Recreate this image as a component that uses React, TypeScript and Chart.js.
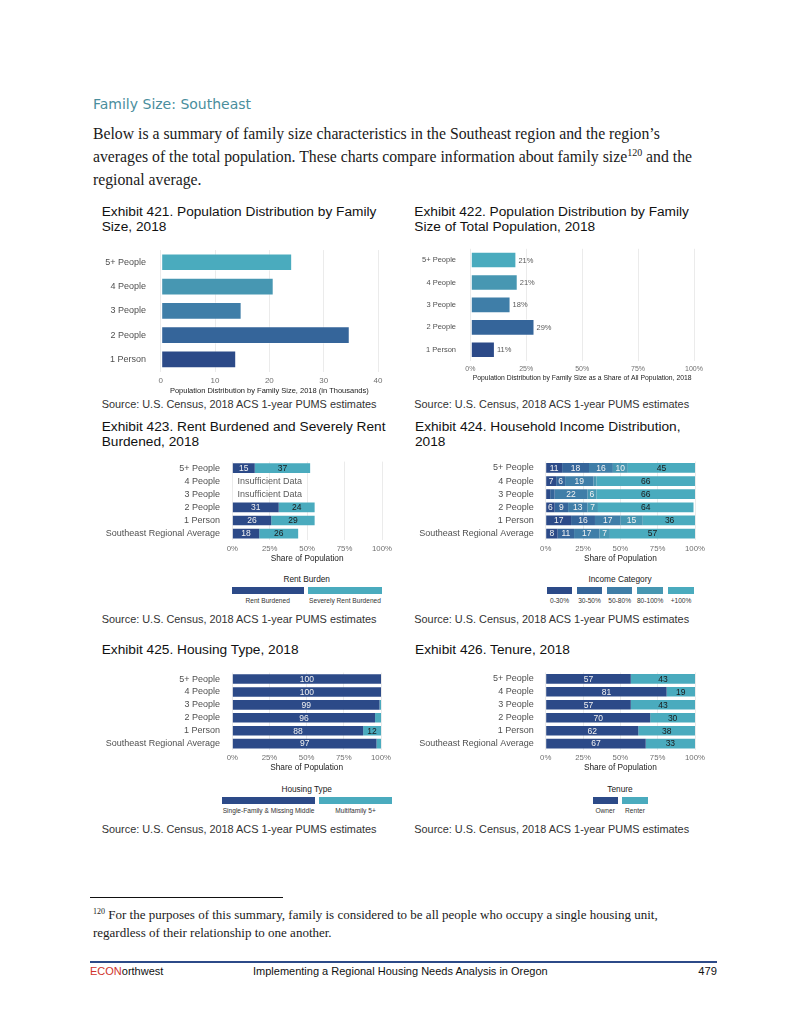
import React, { useEffect, useRef } from 'react';
import { Chart, registerables } from 'chart.js';
Chart.register(...registerables);

const SANS = '"Liberation Sans", Arial, Helvetica, sans-serif';
const SERIF = '"Liberation Serif", "Times New Roman", serif';
const HEAD = '"DejaVu Sans", Verdana, sans-serif';

// ---------------- data ----------------
const familySizes = ['5+ People', '4 People', '3 People', '2 People', '1 Person'];
const populationThousands = [24.2, 20.8, 14.9, 34.8, 13.9];
const populationTicks = [0, 10, 20, 30, 40];
const populationShare = [20.6, 21.2, 18.0, 28.7, 11.0];
const populationShareLabels = ['21%', '21%', '18%', '29%', '11%'];
const shareTicks = [0, 25, 50, 75, 100];

const groups = ['5+ People', '4 People', '3 People', '2 People', '1 Person', 'Southeast Regional Average'];

const rentBurdenTypes = ['Rent Burdened', 'Severely Rent Burdened'];
const rentBurdened = [15, null, null, 31, 26, 18];
const severelyRentBurdened = [37, null, null, 24, 29, 26];
const insufficientGroups = ['4 People', '3 People'];
const insufficientText = 'Insufficient Data';

const incomeCategories = ['0-30%', '30-50%', '50-80%', '80-100%', '+100%'];
const income0to30 = [11, 7, 3, 6, 17, 8];
const income30to50 = [18, 6, 3, 9, 16, 11];
const income50to80 = [16, 19, 22, 13, 17, 17];
const income80to100 = [10, 2, 6, 7, 15, 7];
const income100plus = [45, 66, 66, 64, 36, 57];

const housingTypes = ['Single-Family & Missing Middle', 'Multifamily 5+'];
const singleFamily = [100, 100, 99, 96, 88, 97];
const multifamily = [0, 0, 1, 4, 12, 3];

const tenureTypes = ['Owner', 'Renter'];
const owner = [57, 81, 57, 70, 62, 67];
const renter = [43, 19, 43, 30, 38, 33];

// ---------------- styles ----------------
const NAVY = '#2c4a88';
const TEAL = '#4aabbe';
const sizeColors = ['#4aabbe', '#4797b2', '#3f7ea8', '#35659a', '#2c4a88'];
const incomeColors = ['#2c4a88', '#35659a', '#3f7ea8', '#4797b2', '#4aabbe'];
const LIGHT_LABEL = '#f2f2f2';
const DARK_LABEL = '#1a1a1a';
const CAT_COLOR = '#505050';
const TICK_COLOR = '#707070';
const AXIS_TITLE = '#222222';
const LABEL_MIN = 5;
const INSUFFICIENT_AT = 25;

type GIn = {
  colLeft: number; panelL: number; panelR: number; panelT: number; panelB: number;
  tickCY: number; titleCY: number; tickFont: number; titleFont: number;
};
function geom(o: GIn) {
  const top = Math.floor(o.panelT - 10);
  const left = o.colLeft;
  const right = Math.ceil(o.panelR + 16);
  const titleLH = o.titleFont * 1.2;
  const bottom = Math.ceil(o.titleCY + titleLH / 2 + 1);
  return {
    left, top, width: right - left, height: bottom - top,
    yW: o.panelL - left,
    xH: bottom - o.panelB,
    padTop: o.panelT - top,
    padRight: right - o.panelR,
    tickPad: o.tickCY - o.panelB - (o.tickFont * 1.2) / 2,
    titlePadBottom: bottom - o.titleCY - titleLH / 2,
  };
}
type G = ReturnType<typeof geom>;

const g1 = geom({ colLeft: 95, panelL: 160.7, panelR: 378, panelT: 240, panelB: 371.5, tickCY: 381, titleCY: 390.7, tickFont: 8, titleFont: 7.5 });
const g2 = geom({ colLeft: 405, panelL: 470.3, panelR: 694, panelT: 240.2, panelB: 361, tickCY: 369.3, titleCY: 378, tickFont: 7, titleFont: 6.8 });
const g3 = geom({ colLeft: 95, panelL: 232.3, panelR: 382, panelT: 454.9, panelB: 540.1, tickCY: 549, titleCY: 558.3, tickFont: 7.8, titleFont: 8.3 });
const g4 = geom({ colLeft: 405, panelL: 545.7, panelR: 695, panelT: 454.9, panelB: 540.1, tickCY: 549, titleCY: 558.3, tickFont: 7.8, titleFont: 8.3 });
const g5 = geom({ colLeft: 95, panelL: 232.3, panelR: 381, panelT: 665.2, panelB: 750.1, tickCY: 758.3, titleCY: 767.7, tickFont: 7.8, titleFont: 8.3 });
const g6 = geom({ colLeft: 405, panelL: 545.7, panelR: 695, panelT: 665.2, panelB: 750.1, tickCY: 758.3, titleCY: 767.7, tickFont: 7.8, titleFont: 8.3 });

type OptIn = {
  min: number; max: number; ticks: number[]; fmt: (v: number) => string; tickFont: number;
  title: string; titleFont: number; catFont: number; catPad: number; stacked: boolean;
};
function options(g: G, o: OptIn): any {
  return {
    responsive: false,
    maintainAspectRatio: false,
    animation: false,
    indexAxis: 'y',
    events: [],
    layout: { padding: { top: g.padTop, right: g.padRight, left: 0, bottom: 0 } },
    plugins: { legend: { display: false }, tooltip: { enabled: false }, title: { display: false } },
    scales: {
      x: {
        type: 'linear', min: o.min, max: o.max, stacked: o.stacked,
        afterBuildTicks: (s: any) => { s.ticks = o.ticks.map((v) => ({ value: v })); },
        afterFit: (s: any) => { s.height = g.xH; },
        grid: { color: '#ebebeb', lineWidth: 1, drawTicks: false },
        border: { display: false },
        ticks: {
          padding: g.tickPad, color: TICK_COLOR, font: { family: SANS, size: o.tickFont },
          callback: (v: any) => o.fmt(Number(v)), maxRotation: 0, autoSkip: false,
        },
        title: {
          display: true, text: o.title, color: AXIS_TITLE,
          font: { family: SANS, size: o.titleFont },
          padding: { top: 0, bottom: g.titlePadBottom },
        },
      },
      y: {
        type: 'category', stacked: o.stacked, offset: true,
        afterFit: (s: any) => { s.width = g.yW; },
        grid: { display: false, drawTicks: false },
        border: { display: false },
        ticks: { padding: o.catPad, color: CAT_COLOR, font: { family: SANS, size: o.catFont }, autoSkip: false },
      },
    },
  };
}

function segmentLabels(colors: string[], size: number) {
  return {
    id: 'segmentLabels',
    afterDatasetsDraw(chart: any) {
      const ctx = chart.ctx;
      chart.data.datasets.forEach((ds: any, di: number) => {
        const meta = chart.getDatasetMeta(di);
        meta.data.forEach((el: any, i: number) => {
          const v = ds.data[i];
          if (v == null || v < LABEL_MIN) return;
          const p = el.getProps(['x', 'y', 'base'], true);
          ctx.save();
          ctx.font = `${size}px ${SANS}`;
          ctx.fillStyle = colors[di];
          ctx.textAlign = 'center';
          ctx.textBaseline = 'middle';
          ctx.fillText(String(v), (p.x + p.base) / 2, p.y + 0.5);
          ctx.restore();
        });
      });
    },
  };
}

function endLabels(texts: string[], size: number) {
  return {
    id: 'endLabels',
    afterDatasetsDraw(chart: any) {
      const ctx = chart.ctx;
      const meta = chart.getDatasetMeta(0);
      meta.data.forEach((el: any, i: number) => {
        const p = el.getProps(['x', 'y'], true);
        ctx.save();
        ctx.font = `${size}px ${SANS}`;
        ctx.fillStyle = '#5a5a5a';
        ctx.textAlign = 'left';
        ctx.textBaseline = 'middle';
        ctx.fillText(texts[i], p.x + 2, p.y + 0.5);
        ctx.restore();
      });
    },
  };
}

function noteLabels(rows: string[], text: string, size: number) {
  return {
    id: 'noteLabels',
    afterDatasetsDraw(chart: any) {
      const ctx = chart.ctx;
      const xs = chart.scales.x;
      const ys = chart.scales.y;
      rows.forEach((r) => {
        const idx = chart.data.labels.indexOf(r);
        if (idx < 0) return;
        ctx.save();
        ctx.font = `${size}px ${SANS}`;
        ctx.fillStyle = '#5a5a5a';
        ctx.textAlign = 'center';
        ctx.textBaseline = 'middle';
        ctx.fillText(text, xs.getPixelForValue(INSUFFICIENT_AT), ys.getPixelForValue(idx) + 0.5);
        ctx.restore();
      });
    },
  };
}

const pct = (v: number) => `${v}%`;
const shareOpts = {
  min: 0, max: 100, ticks: shareTicks, fmt: pct, tickFont: 7.8,
  title: 'Share of Population', titleFont: 8.3, catFont: 9, catPad: 12.2, stacked: true,
};
const BAR_W = 0.74;

function seg(label: string, data: (number | null)[], color: string) {
  return { label, data, backgroundColor: color, barPercentage: BAR_W, categoryPercentage: 1, borderWidth: 0 };
}

const configs: Record<string, () => any> = {
  c1: () => ({
    type: 'bar',
    data: {
      labels: familySizes,
      datasets: [{
        label: 'Population', data: populationThousands, backgroundColor: sizeColors,
        barPercentage: 0.73, categoryPercentage: 1, borderWidth: 1, borderColor: 'rgba(255,255,255,0.35)', borderSkipped: false,
      }],
    },
    options: options(g1, {
      min: 0, max: 40, ticks: populationTicks, fmt: (v) => String(v), tickFont: 8,
      title: 'Population Distribution by Family Size, 2018 (in Thousands)', titleFont: 7.5, catFont: 9, catPad: 14.7, stacked: false,
    }),
  }),
  c2: () => ({
    type: 'bar',
    data: {
      labels: familySizes,
      datasets: [{
        label: 'Share', data: populationShare, backgroundColor: sizeColors,
        barPercentage: 0.74, categoryPercentage: 1, borderWidth: 1, borderColor: 'rgba(255,255,255,0.35)', borderSkipped: false,
      }],
    },
    options: options(g2, {
      min: 0, max: 100, ticks: shareTicks, fmt: pct, tickFont: 7,
      title: 'Population Distribution by Family Size as a Share of All Population, 2018', titleFont: 6.8, catFont: 7.5, catPad: 14.3, stacked: false,
    }),
    plugins: [endLabels(populationShareLabels, 7.5)],
  }),
  c3: () => ({
    type: 'bar',
    data: {
      labels: groups,
      datasets: [
        seg(rentBurdenTypes[0], rentBurdened, NAVY),
        seg(rentBurdenTypes[1], severelyRentBurdened, TEAL),
      ],
    },
    options: options(g3, shareOpts),
    plugins: [segmentLabels([LIGHT_LABEL, DARK_LABEL], 8.5), noteLabels(insufficientGroups, insufficientText, 9)],
  }),
  c4: () => ({
    type: 'bar',
    data: {
      labels: groups,
      datasets: [
        seg(incomeCategories[0], income0to30, incomeColors[0]),
        seg(incomeCategories[1], income30to50, incomeColors[1]),
        seg(incomeCategories[2], income50to80, incomeColors[2]),
        seg(incomeCategories[3], income80to100, incomeColors[3]),
        seg(incomeCategories[4], income100plus, incomeColors[4]),
      ],
    },
    options: options(g4, { ...shareOpts, catPad: 12 }),
    plugins: [segmentLabels([LIGHT_LABEL, LIGHT_LABEL, LIGHT_LABEL, LIGHT_LABEL, DARK_LABEL], 8.5)],
  }),
  c5: () => ({
    type: 'bar',
    data: {
      labels: groups,
      datasets: [
        seg(housingTypes[0], singleFamily, NAVY),
        seg(housingTypes[1], multifamily, TEAL),
      ],
    },
    options: options(g5, shareOpts),
    plugins: [segmentLabels([LIGHT_LABEL, DARK_LABEL], 8.5)],
  }),
  c6: () => ({
    type: 'bar',
    data: {
      labels: groups,
      datasets: [
        seg(tenureTypes[0], owner, NAVY),
        seg(tenureTypes[1], renter, TEAL),
      ],
    },
    options: options(g6, { ...shareOpts, catPad: 12 }),
    plugins: [segmentLabels([LIGHT_LABEL, DARK_LABEL], 8.5)],
  }),
};

function ChartBox({ g, make }: { g: G; make: () => any }) {
  const ref = useRef<HTMLCanvasElement>(null);
  useEffect(() => {
    const chart = new Chart(ref.current as HTMLCanvasElement, make());
    return () => chart.destroy();
  }, []);
  return (
    <canvas
      ref={ref}
      width={g.width}
      height={g.height}
      style={{ position: 'absolute', left: g.left, top: g.top, width: g.width, height: g.height }}
    />
  );
}

type TxtProps = {
  x: number; y: number; size: number; children: React.ReactNode; family?: string; color?: string;
  align?: 'left' | 'right' | 'center'; lh?: number;
};
function Txt({ x, y, size, children, family = SANS, color = '#111', align = 'left', lh }: TxtProps) {
  const h = lh ?? Math.round(size * 1.4);
  const st: React.CSSProperties = {
    position: 'absolute', top: y - h / 2, height: h, lineHeight: `${h}px`, fontSize: size,
    fontFamily: family, color, whiteSpace: 'nowrap',
  };
  if (align === 'left') st.left = x;
  else if (align === 'right') st.right = 800 - x;
  else { st.left = x; st.transform = 'translateX(-50%)'; }
  return <div style={st}>{children}</div>;
}

function Legend({ title, titleX, titleY, labels, colors, boxes, boxY, labelY }: {
  title: string; titleX: number; titleY: number; labels: string[]; colors: string[];
  boxes: number[][]; boxY: number; labelY: number;
}) {
  return (
    <>
      <Txt x={titleX} y={titleY} size={8.3} align="center" color="#222">{title}</Txt>
      {labels.map((l, i) => (
        <React.Fragment key={l}>
          <div style={{
            position: 'absolute', left: boxes[i][0], top: boxY - 3.5, width: boxes[i][1] - boxes[i][0], height: 7,
            background: colors[i],
          }} />
          <Txt x={(boxes[i][0] + boxes[i][1]) / 2} y={labelY} size={6.6} align="center" color="#333">{l}</Txt>
        </React.Fragment>
      ))}
    </>
  );
}

const SOURCE = 'Source: U.S. Census, 2018 ACS 1-year PUMS estimates';
const rentLegendBoxes = [[231.7, 303.7], [308.3, 381.7]];
const incomeLegendBoxes = [[546.7, 572.3], [576.7, 602.3], [607, 632.3], [637, 663.3], [668.3, 693.7]];
const housingLegendBoxes = [[221.7, 315.3], [319.3, 391.7]];
const tenureLegendBoxes = [[592.7, 617.7], [622.3, 647.7]];

export default function App() {
  const T = 13.7;
  const S = 10.9;
  const BODY = 15.75;
  const supBody: React.CSSProperties = { fontSize: 10, verticalAlign: 'top', lineHeight: '14px' };
  return (
    <div style={{ position: 'absolute', left: 0, top: 0, width: 800, height: 1035, background: '#fff', overflow: 'hidden' }}>
      <Txt x={93} y={104} size={14} family={HEAD} color="#4a8e9d">Family Size: Southeast</Txt>
      <Txt x={93} y={134} size={BODY} family={SERIF} color="#1a1a1a">Below is a summary of family size characteristics in the Southeast region and the region’s</Txt>
      <Txt x={93} y={157} size={BODY} family={SERIF} color="#1a1a1a">averages of the total population. These charts compare information about family size<sup style={supBody}>120</sup> and the</Txt>
      <Txt x={93} y={180} size={BODY} family={SERIF} color="#1a1a1a">regional average.</Txt>

      <Txt x={101.7} y={211} size={T}>Exhibit 421. Population Distribution by Family</Txt>
      <Txt x={101.7} y={226.5} size={T}>Size, 2018</Txt>
      <Txt x={414.3} y={211} size={T}>Exhibit 422. Population Distribution by Family</Txt>
      <Txt x={414.3} y={226.5} size={T}>Size of Total Population, 2018</Txt>
      <ChartBox g={g1} make={configs.c1} />
      <ChartBox g={g2} make={configs.c2} />
      <Txt x={101.7} y={404.5} size={S} color="#333">{SOURCE}</Txt>
      <Txt x={414.3} y={404.5} size={S} color="#333">{SOURCE}</Txt>

      <Txt x={101.7} y={426} size={T}>Exhibit 423. Rent Burdened and Severely Rent</Txt>
      <Txt x={101.7} y={441} size={T}>Burdened, 2018</Txt>
      <Txt x={415} y={426} size={T}>Exhibit 424. Household Income Distribution,</Txt>
      <Txt x={415} y={441} size={T}>2018</Txt>
      <ChartBox g={g3} make={configs.c3} />
      <ChartBox g={g4} make={configs.c4} />
      <Legend title="Rent Burden" titleX={306.7} titleY={579} labels={rentBurdenTypes} colors={[NAVY, TEAL]} boxes={rentLegendBoxes} boxY={590} labelY={600.3} />
      <Legend title="Income Category" titleX={620} titleY={579} labels={incomeCategories} colors={incomeColors} boxes={incomeLegendBoxes} boxY={590} labelY={600.3} />
      <Txt x={101.7} y={619} size={S} color="#333">{SOURCE}</Txt>
      <Txt x={414.3} y={619} size={S} color="#333">{SOURCE}</Txt>

      <Txt x={101.7} y={649} size={T}>Exhibit 425. Housing Type, 2018</Txt>
      <Txt x={415} y={649} size={T}>Exhibit 426. Tenure, 2018</Txt>
      <ChartBox g={g5} make={configs.c5} />
      <ChartBox g={g6} make={configs.c6} />
      <Legend title="Housing Type" titleX={306.7} titleY={789} labels={housingTypes} colors={[NAVY, TEAL]} boxes={housingLegendBoxes} boxY={800} labelY={810} />
      <Legend title="Tenure" titleX={620} titleY={789} labels={tenureTypes} colors={[NAVY, TEAL]} boxes={tenureLegendBoxes} boxY={800} labelY={810} />
      <Txt x={101.7} y={829} size={S} color="#333">{SOURCE}</Txt>
      <Txt x={414.3} y={829} size={S} color="#333">{SOURCE}</Txt>

      <div style={{ position: 'absolute', left: 90, top: 897, width: 193, height: 1, background: '#111' }} />
      <Txt x={93} y={914.5} size={13} family={SERIF} color="#1a1a1a"><sup style={{ fontSize: 8, verticalAlign: 'top', lineHeight: '12px' }}>120</sup> For the purposes of this summary, family is considered to be all people who occupy a single housing unit,</Txt>
      <Txt x={93} y={932.5} size={13} family={SERIF} color="#1a1a1a">regardless of their relationship to one another.</Txt>

      <div style={{ position: 'absolute', left: 90, top: 960.5, width: 627, height: 2.4, background: NAVY }} />
      <Txt x={90} y={971} size={11} color="#111"><span style={{ color: '#d0342c' }}>ECON</span>orthwest</Txt>
      <Txt x={253} y={971} size={11} color="#111">Implementing a Regional Housing Needs Analysis in Oregon</Txt>
      <Txt x={717} y={971} size={11.2} align="right" color="#111">479</Txt>
    </div>
  );
}
